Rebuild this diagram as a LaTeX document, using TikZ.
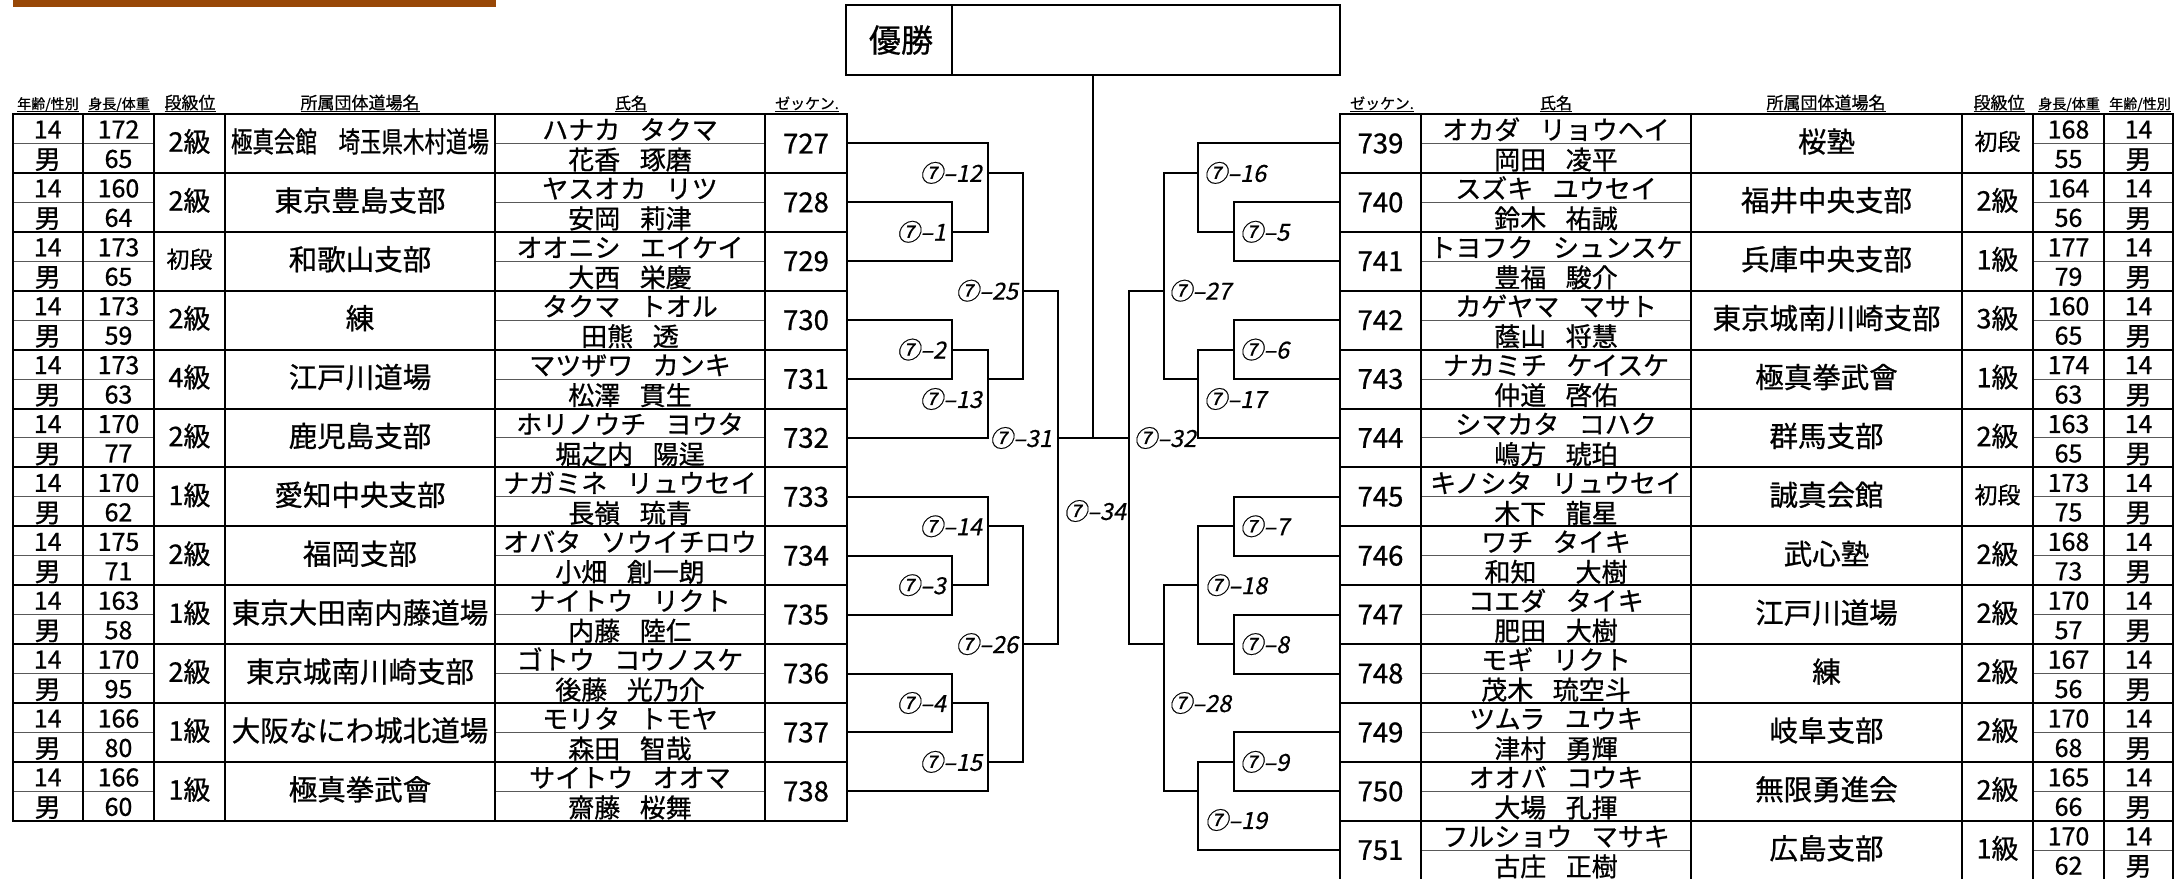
\documentclass[tikz,border=0pt]{standalone}
\usepackage{fontspec}
\usepackage{graphicx}
\setmainfont{Noto Sans CJK JP}[FakeBold=0.8]
\newfontfamily\lblfont[FakeSlant=0.2,FakeBold=0.6]{Noto Sans CJK JP}
\newcommand\fsz[1]{\fontsize{#1pt}{#1pt}\selectfont}
\newsavebox\fitbx
\newcommand\fitto[2]{\sbox\fitbx{#2}\ifdim\wd\fitbx>#1pt\relax\resizebox{#1pt}{\height}{\usebox\fitbx}\else\usebox\fitbx\fi}
\newcommand\jsp{\hspace{0.75em}}
\definecolor{barbrown}{RGB}{152,72,7}
\newcommand\bout[3]{\draw[br] (#1) -- (#1 -| #3) -- (#2 -| #3) -- (#2);}
\begin{document}
\begin{tikzpicture}[x=1pt,y=-1pt,
  grid/.style={line width=2pt, line cap=rect},
  igrid/.style={line width=1.6pt},
  thinl/.style={line width=1pt, black!65},
  br/.style={line width=2pt, line join=miter},
  txt/.style={inner sep=0pt, outer sep=0pt},
  hdr/.style={txt, anchor=base},
  lbl/.style={txt, font=\lblfont\fsz{23.5}},
  ul/.style={line width=0.9pt}]
\useasboundingbox (0,0) rectangle (2184,878);
\clip (0,0) rectangle (2184,878);
\fill[barbrown] (12.5,0) rectangle (496,6.5);

% ---------- left table ----------
\foreach \k in {0,...,11}{
  \draw[thinl] (12.5,{143.45+58.9*\k}) -- (154,{143.45+58.9*\k});
  \draw[thinl] (495,{143.45+58.9*\k}) -- (765,{143.45+58.9*\k});
}
\foreach \xx in {83,154,225,495,765} \draw[igrid] (\xx,114) -- (\xx,820.8);
\foreach \k in {1,...,11} \draw[grid] (12.5,{114+58.9*\k}) -- (847,{114+58.9*\k});
\draw[grid] (12.5,114) rectangle (847,820.8);

% ---------- right table ----------
\foreach \k in {0,...,12}{
  \draw[thinl] (1421,{143.45+58.9*\k}) -- (1691,{143.45+58.9*\k});
  \draw[thinl] (2033,{143.45+58.9*\k}) -- (2173,{143.45+58.9*\k});
}
\foreach \xx in {1421,1691,1962,2033,2104} \draw[igrid] (\xx,114) -- (\xx,885);
\foreach \k in {1,...,12} \draw[grid] (1340,{114+58.9*\k}) -- (2173,{114+58.9*\k});
\draw[grid] (1340,885) -- (1340,114) -- (2173,114) -- (2173,885);

% ---------- headers ----------
\coordinate (ulY) at (0,111.6);
\node[hdr,font=\fsz{14}] (hL1) at (48,109) {年齢/性別};
\node[hdr,font=\fsz{14}] (hL2) at (119,109) {身長/体重};
\node[hdr,font=\fsz{17}] (hL3) at (190,109) {段級位};
\node[hdr,font=\fsz{17}] (hL4) at (360,109) {所属団体道場名};
\node[hdr,font=\fsz{16}] (hL5) at (631,109) {氏名};
\node[hdr,font=\fsz{15}] (hL6) at (807,109) {ゼッケン.};
\node[hdr,font=\fsz{15}] (hR1) at (1382,109) {ゼッケン.};
\node[hdr,font=\fsz{16}] (hR2) at (1556,109) {氏名};
\node[hdr,font=\fsz{17}] (hR3) at (1826,109) {所属団体道場名};
\node[hdr,font=\fsz{17}] (hR4) at (1999,109) {段級位};
\node[hdr,font=\fsz{14}] (hR5) at (2069,109) {身長/体重};
\node[hdr,font=\fsz{14}] (hR6) at (2140,109) {年齢/性別};
\foreach \h in {hL1,hL2,hL3,hL4,hL5,hL6,hR1,hR2,hR3,hR4,hR5,hR6}
  \draw[ul] (\h.west |- ulY) -- (\h.east |- ulY);

% ---------- left rows ----------
\foreach \k/\hh/\ww/\rk/\rs/\dojo/\ka/\kj/\zk in {
 0/172/65/2級/27/極真会館　埼玉県木村道場/ハナカ\jsp タクマ/花香\jsp 琢磨/727,
 1/160/64/2級/27/東京豊島支部/ヤスオカ\jsp リツ/安岡\jsp 莉津/728,
 2/173/65/初段/23/和歌山支部/オオニシ\jsp エイケイ/大西\jsp 栄慶/729,
 3/173/59/2級/27/練/タクマ\jsp トオル/田熊\jsp 透/730,
 4/173/63/4級/27/江戸川道場/マツザワ\jsp カンキ/松澤\jsp 貫生/731,
 5/170/77/2級/27/鹿児島支部/ホリノウチ\jsp ヨウタ/堀之内\jsp 陽逞/732,
 6/170/62/1級/27/愛知中央支部/ナガミネ\jsp リュウセイ/長嶺\jsp 琉青/733,
 7/175/71/2級/27/福岡支部/オバタ\jsp ソウイチロウ/小畑\jsp 創一朗/734,
 8/163/58/1級/27/東京大田南内藤道場/ナイトウ\jsp リクト/内藤\jsp 陸仁/735,
 9/170/95/2級/27/東京城南川崎支部/ゴトウ\jsp コウノスケ/後藤\jsp 光乃介/736,
 10/166/80/1級/27/大阪なにわ城北道場/モリタ\jsp トモヤ/森田\jsp 智哉/737,
 11/166/60/1級/27/極真拳武會/サイトウ\jsp オオマ/齋藤\jsp 桜舞/738}{
  \pgfmathsetmacro\yT{114+58.9*\k}
  \pgfmathsetmacro\yC{\yT+29.45}
  \pgfmathsetmacro\yB{\yT+58.9}
  \node[hdr,font=\fsz{25}] at (47.75,\yC-5) {14};
  \node[hdr,font=\fsz{26}] at (47.75,\yB-4) {男};
  \node[hdr,font=\fsz{25}] at (118.5,\yC-5) {\hh};
  \node[hdr,font=\fsz{25}] at (118.5,\yB-5) {\ww};
  \node[txt,font=\fsz{\rs}] at (189.5,\yC-2) {\rk};
  \node[txt,font=\fsz{28.5}] at (360,\yC-2) {\fitto{258}{\dojo}};
  \node[hdr,font=\fsz{26}] at (630,\yC-4) {\fitto{262}{\ka}};
  \node[hdr,font=\fsz{26}] at (630,\yB-3.5) {\fitto{262}{\kj}};
  \node[txt,font=\fsz{27.5},minimum width=82pt] (z\zk) at (806,\yC) {\zk};
}

% ---------- right rows ----------
\foreach \k/\hh/\ww/\rk/\rs/\dojo/\ka/\kj/\zk in {
 0/168/55/初段/23/桜塾/オカダ\jsp リョウヘイ/岡田\jsp 凌平/739,
 1/164/56/2級/27/福井中央支部/スズキ\jsp ユウセイ/鈴木\jsp 祐誠/740,
 2/177/79/1級/27/兵庫中央支部/トヨフク\jsp シュンスケ/豊福\jsp 駿介/741,
 3/160/65/3級/27/東京城南川崎支部/カゲヤマ\jsp マサト/蔭山\jsp 将慧/742,
 4/174/63/1級/27/極真拳武會/ナカミチ\jsp ケイスケ/仲道\jsp 啓佑/743,
 5/163/65/2級/27/群馬支部/シマカタ\jsp コハク/嶋方\jsp 琥珀/744,
 6/173/75/初段/23/誠真会館/キノシタ\jsp リュウセイ/木下\jsp 龍星/745,
 7/168/73/2級/27/武心塾/ワチ\jsp タイキ/和知\jsp\jsp 大樹/746,
 8/170/57/2級/27/江戸川道場/コエダ\jsp タイキ/肥田\jsp 大樹/747,
 9/167/56/2級/27/練/モギ\jsp リクト/茂木\jsp 琉空斗/748,
 10/170/68/2級/27/岐阜支部/ツムラ\jsp ユウキ/津村\jsp 勇輝/749,
 11/165/66/2級/27/無限勇進会/オオバ\jsp コウキ/大場\jsp 孔揮/750,
 12/170/62/1級/27/広島支部/フルショウ\jsp マサキ/古庄\jsp 正樹/751}{
  \pgfmathsetmacro\yT{114+58.9*\k}
  \pgfmathsetmacro\yC{\yT+29.45}
  \pgfmathsetmacro\yB{\yT+58.9}
  \node[hdr,font=\fsz{25}] at (2138.5,\yC-5) {14};
  \node[hdr,font=\fsz{26}] at (2138.5,\yB-4) {男};
  \node[hdr,font=\fsz{25}] at (2068.5,\yC-5) {\hh};
  \node[hdr,font=\fsz{25}] at (2068.5,\yB-5) {\ww};
  \node[txt,font=\fsz{\rs}] at (1997.5,\yC-2) {\rk};
  \node[txt,font=\fsz{28.5}] at (1826.5,\yC-2) {\fitto{258}{\dojo}};
  \node[hdr,font=\fsz{26}] at (1556,\yC-4) {\fitto{262}{\ka}};
  \node[hdr,font=\fsz{26}] at (1556,\yB-3.5) {\fitto{262}{\kj}};
  \node[txt,font=\fsz{27.5},minimum width=81pt] (z\zk) at (1380.5,\yC) {\zk};
}

% ---------- champion box ----------
\node[draw,line width=2pt,minimum width=494pt,minimum height=70pt,inner sep=0pt,outer sep=0pt] (champ) at (1093,40) {};
\coordinate (dv) at (952,0);
\draw[br] (champ.north -| dv) -- (champ.south -| dv);
\node[txt,font=\fsz{32}] (yusho) at (901,40) {優勝};

% ---------- bracket points ----------
\coordinate (m1) at (952,231.8);
\coordinate (m2) at (952,349.6);
\coordinate (m3) at (952,585.2);
\coordinate (m4) at (952,703.0);
\coordinate (m12) at (987.5,172.9);
\coordinate (m13) at (987.5,379.05);
\coordinate (m14) at (987.5,526.3);
\coordinate (m15) at (987.5,761.9);
\coordinate (m25) at (1023,290.7);
\coordinate (m26) at (1023,644.1);
\coordinate (m31) at (1058,437.95);
\coordinate (m5) at (1234,231.8);
\coordinate (m6) at (1234,349.6);
\coordinate (m7) at (1234,526.3);
\coordinate (m8) at (1234,644.1);
\coordinate (m9) at (1234,761.9);
\coordinate (m16) at (1198,172.9);
\coordinate (m17) at (1198,379.05);
\coordinate (m18) at (1198,585.2);
\coordinate (m19) at (1198,791.35);
\coordinate (m27) at (1163.6,290.7);
\coordinate (m28) at (1163.6,644.1);
\coordinate (m32) at (1128.6,437.95);

% left bracket
\bout{z728.east}{z729.east}{m1}
\bout{z730.east}{z731.east}{m2}
\bout{z734.east}{z735.east}{m3}
\bout{z736.east}{z737.east}{m4}
\bout{z727.east}{m1}{m12}
\bout{m2}{z732.east}{m13}
\bout{z733.east}{m3}{m14}
\bout{m4}{z738.east}{m15}
\bout{m12}{m13}{m25}
\bout{m14}{m15}{m26}
\bout{m25}{m26}{m31}
% right bracket
\bout{z740.west}{z741.west}{m5}
\bout{z742.west}{z743.west}{m6}
\bout{z745.west}{z746.west}{m7}
\bout{z747.west}{z748.west}{m8}
\bout{z749.west}{z750.west}{m9}
\bout{z739.west}{m5}{m16}
\bout{m6}{z744.west}{m17}
\bout{m7}{m8}{m18}
\bout{m9}{z751.west}{m19}
\bout{m16}{m17}{m27}
\bout{m18}{m19}{m28}
\bout{m27}{m28}{m32}
% final
\draw[br] (m31) -- (m32);
\draw[br] (champ.south) -- (champ.south |- m31);

% ---------- match labels ----------
\node[lbl,anchor=east] (L1) at (946,231.8) {⑦–1};
\node[lbl,anchor=east] (L12) at (982,172.9) {⑦–12};
\node[lbl,anchor=east] (L2) at (946,349.6) {⑦–2};
\node[lbl,anchor=east] (L13) at (982,399) {⑦–13};
\node[lbl,anchor=east] (L25) at (1018,290.7) {⑦–25};
\node[lbl,anchor=east] (L14) at (982,526.3) {⑦–14};
\node[lbl,anchor=east] (L3) at (946,585.2) {⑦–3};
\node[lbl,anchor=east] (L26) at (1018,644.1) {⑦–26};
\node[lbl,anchor=east] (L4) at (946,703) {⑦–4};
\node[lbl,anchor=east] (L15) at (982,761.9) {⑦–15};
\node[lbl,anchor=east] (L31) at (1052,438) {⑦–31};
\node[lbl] (L34) at (1095,511) {⑦–34};
\node[lbl,anchor=west] (L16) at (1204,172.9) {⑦–16};
\node[lbl,anchor=west] (L5) at (1240,231.8) {⑦–5};
\node[lbl,anchor=west] (L27) at (1169,290.7) {⑦–27};
\node[lbl,anchor=west] (L6) at (1240,349.6) {⑦–6};
\node[lbl,anchor=west] (L17) at (1204,399) {⑦–17};
\node[lbl,anchor=west] (L32) at (1134,438) {⑦–32};
\node[lbl,anchor=west] (L7) at (1240,526.3) {⑦–7};
\node[lbl,anchor=west] (L18) at (1205,585.2) {⑦–18};
\node[lbl,anchor=west] (L8) at (1240,644.1) {⑦–8};
\node[lbl,anchor=west] (L28) at (1169,703) {⑦–28};
\node[lbl,anchor=west] (L9) at (1240,761.9) {⑦–9};
\node[lbl,anchor=west] (L19) at (1205,820) {⑦–19};
\end{tikzpicture}
\end{document}
